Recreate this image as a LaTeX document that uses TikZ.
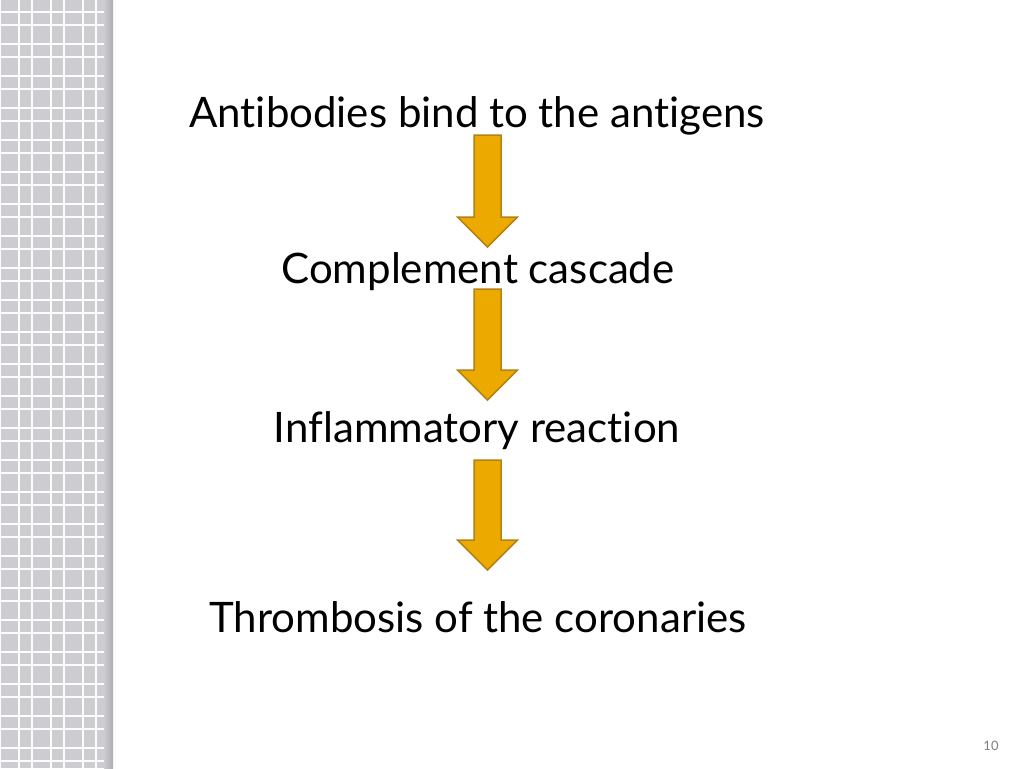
\documentclass[tikz,border=0pt]{standalone}
\usepackage{fontspec}
\setmainfont{Lato}[Ligatures={NoCommon,NoRare,NoDiscretionary}]
\usepackage{tikz}
\usetikzlibrary{calc,positioning}
\definecolor{barfill}{RGB}{204,204,209}
\definecolor{barshade}{RGB}{172,172,177}
\definecolor{arrowgold}{RGB}{236,170,0}
\definecolor{arrowedge}{RGB}{178,130,20}
\tikzset{every node/.append style={transform shape=false}}
\tikzset{steptext/.style={font=\fontsize{42}{50}\selectfont, inner sep=0pt, anchor=base}}
\tikzset{arrowfill/.style={fill=arrowgold, draw=arrowedge, line width=1.5pt, line join=miter}}
\tikzset{gridline/.style={white!96!barfill, line width=1.6pt}}
\newcommand{\blockarrow}[2]{%
  \draw[arrowfill] ($(#1)+(-13.5,0)$) -- ($(#1)+(13.5,0)$) -- ($(#2)+(13.5,-30)$)
    -- ($(#2)+(30,-30)$) -- (#2) -- ($(#2)+(-30,-30)$) -- ($(#2)+(-13.5,-30)$) -- cycle;}

\begin{document}
\begin{tikzpicture}[x=1pt,y=-1pt]
  \useasboundingbox[fill=white] (0,0) rectangle (1024,768);

  % patterned side bar
  \fill[barfill] (0,0) rectangle (113,768);
  \foreach \x in {0,32,64,96}{
    \draw[gridline] (\x,0)--(\x,768);
    \draw[gridline] (\x+19,0)--(\x+19,768);
  };
  \foreach \y in {0,32,...,768}{
    \draw[gridline] (0,\y+12)--(104,\y+12);
    \draw[gridline] (0,\y+25)--(104,\y+25);
  };
  \shade[left color=barfill, right color=barshade] (104,0) rectangle (113,768);

  % the steps
  \node[steptext] (antibodies) at (477,127) {Antibodies bind to the antigens};
  \node[steptext] (complement) at (478,283) {Complement cascade};
  \node[steptext] (inflammation) at (477,442) {Inflammatory reaction};
  \node[steptext] (thrombosis) at (478,632) {Thrombosis of the coronaries};

  \coordinate (top1) at (487.5,135);
  \coordinate (tip1) at (487.5,247);
  \coordinate (top2) at (487.5,289);
  \coordinate (tip2) at (487.5,400);
  \coordinate (top3) at (487.5,460);
  \coordinate (tip3) at (487.5,570);
  \blockarrow{top1}{tip1}
  \blockarrow{top2}{tip2}
  \blockarrow{top3}{tip3}

  \node[font=\fontsize{13}{15}\selectfont, text=gray, anchor=base] (pagenum) at (991,750) {10};
\end{tikzpicture}
\end{document}
